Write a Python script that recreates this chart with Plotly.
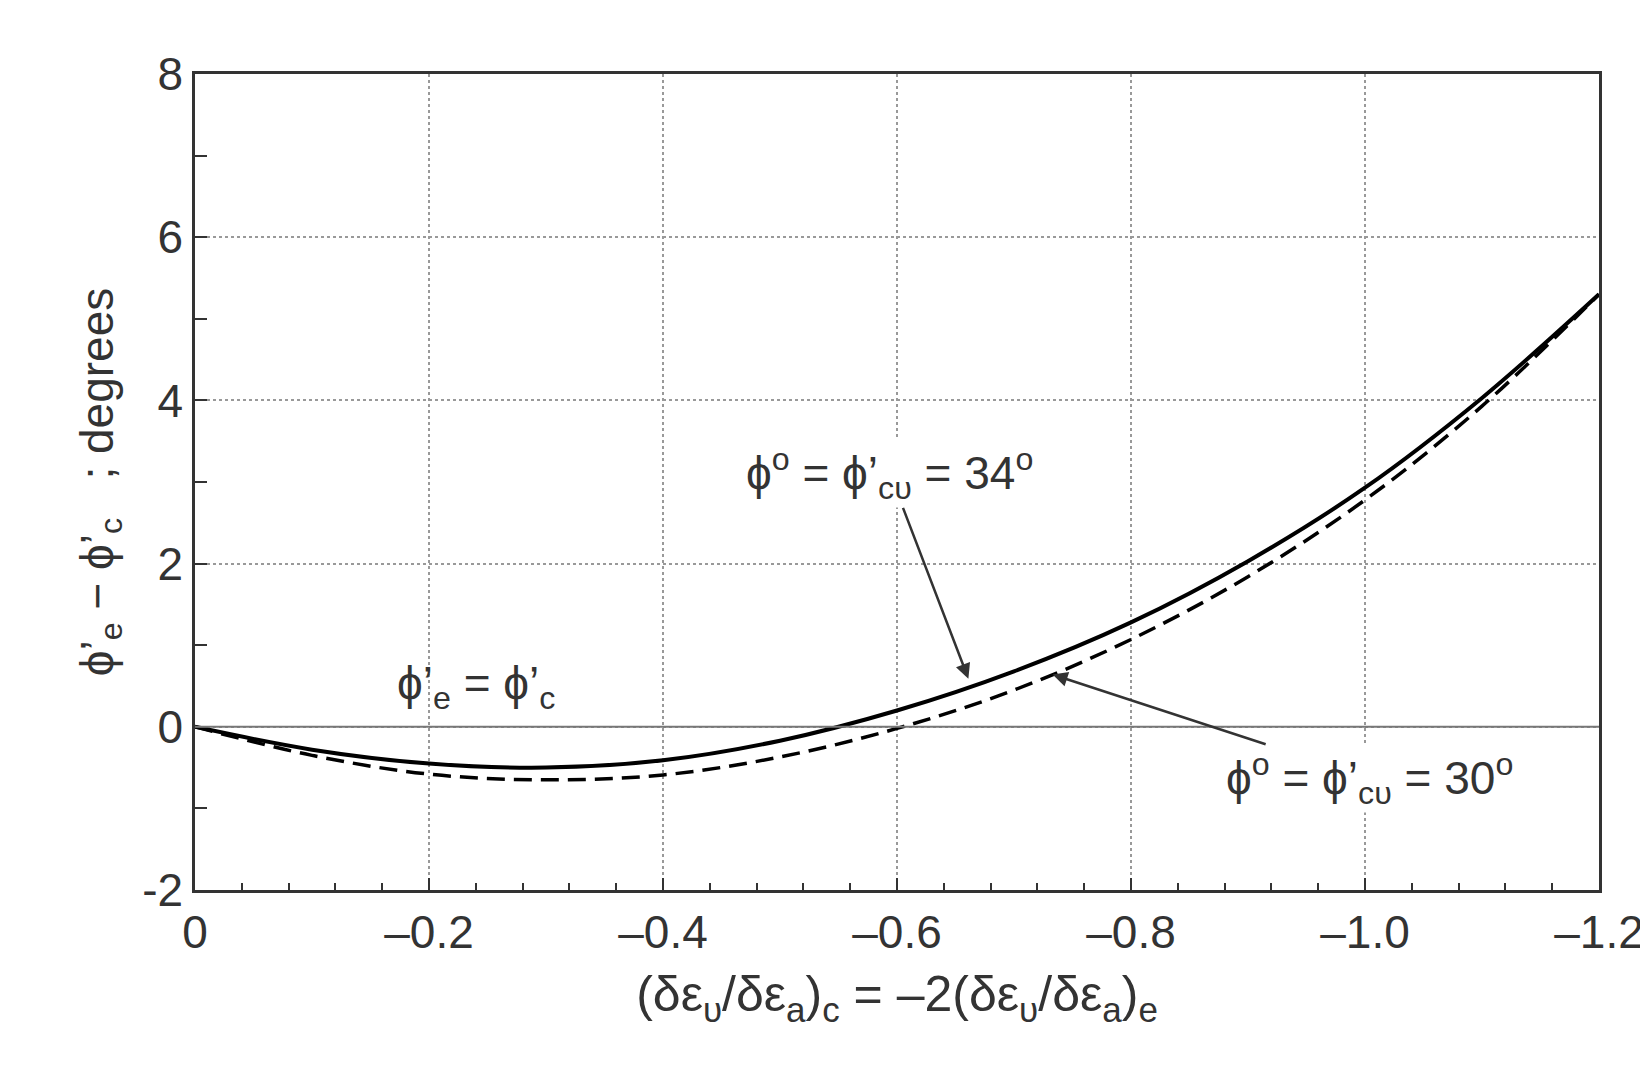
import plotly.graph_objects as go

# strain-rate ratio (x) and friction-angle difference (y)
x_vals = [0, -0.1, -0.2, -0.3, -0.4, -0.5, -0.6, -0.7, -0.8, -0.9, -1.0, -1.1, -1.2]
phi34 = [0, -0.28, -0.45, -0.5, -0.41, -0.17, 0.2, 0.68, 1.28, 2.03, 2.93, 4.03, 5.3]
phi30 = [0, -0.35, -0.58, -0.65, -0.59, -0.37, -0.02, 0.45, 1.07, 1.84, 2.78, 3.93, 5.3]
x_ticks = [0, -0.2, -0.4, -0.6, -0.8, -1.0, -1.2]
x_tick_text = ["0", "\u20130.2", "\u20130.4", "\u20130.6", "\u20130.8", "\u20131.0", "\u20131.2"]

font = dict(family="Liberation Sans, Arial", size=46, color="#333")

fig = go.Figure()
fig.add_trace(go.Scatter(x=x_vals, y=phi34, mode="lines", line=dict(color="black", width=4, shape="spline")))
fig.add_trace(go.Scatter(x=x_vals, y=phi30, mode="lines", line=dict(color="black", width=3.5, dash="18px,9px", shape="spline")))
fig.add_hline(y=0, line=dict(color="#777", width=2))

fig.add_annotation(x=-0.661, y=0.59, ax=-0.594, ay=3.1, axref="x", ayref="y",
                   text="\u03d5<sup>o</sup> = \u03d5\u2019<sub>c\u03c5</sub> = 34<sup>o</sup>",
                   showarrow=True, arrowhead=2, arrowsize=1.2, arrowwidth=2.5, arrowcolor="#333",
                   font=font, bgcolor="white")
fig.add_annotation(x=-0.733, y=0.64, ax=-1.004, ay=-0.63, axref="x", ayref="y",
                   text="\u03d5<sup>o</sup> = \u03d5\u2019<sub>c\u03c5</sub> = 30<sup>o</sup>",
                   showarrow=True, arrowhead=2, arrowsize=1.2, arrowwidth=2.5, arrowcolor="#333",
                   font=font, bgcolor="white")
fig.add_annotation(x=-0.24, y=0.5, text="\u03d5\u2019<sub>e</sub> = \u03d5\u2019<sub>c</sub>",
                   showarrow=False, font=font)

fig.update_xaxes(range=[0, -1.2], tickvals=x_ticks, ticktext=x_tick_text,
                 showgrid=True, gridcolor="#999", griddash="dot", gridwidth=1.5,
                 ticks="inside", ticklen=12, tickwidth=2, tickcolor="#333",
                 minor=dict(dtick=0.04, ticks="inside", ticklen=7, tickcolor="#333", showgrid=False),
                 showline=True, linecolor="#333", linewidth=2.5, mirror=True, zeroline=False,
                 tickfont=font,
                 title=dict(text="(\u03b4\u03b5<sub>\u03c5</sub>/\u03b4\u03b5<sub>a</sub>)<sub>c</sub> = \u20132(\u03b4\u03b5<sub>\u03c5</sub>/\u03b4\u03b5<sub>a</sub>)<sub>e</sub>",
                            font=dict(family="Liberation Sans, Arial", size=50, color="#333"), standoff=20))
fig.update_yaxes(range=[-2, 8], dtick=2, tickvals=[-2, 0, 2, 4, 6, 8], ticktext=["-2", "0", "2", "4", "6", "8"],
                 showgrid=True, gridcolor="#999", griddash="dot", gridwidth=1.5,
                 ticks="inside", ticklen=12, tickwidth=2, tickcolor="#333",
                 minor=dict(dtick=1, ticks="inside", ticklen=12, tickcolor="#333", showgrid=False),
                 showline=True, linecolor="#333", linewidth=2.5, mirror=True, zeroline=False,
                 tickfont=font,
                 title=dict(text="\u03d5\u2019<sub>e</sub> \u2212 \u03d5\u2019<sub>c</sub>   ; degrees",
                            font=dict(family="Liberation Sans, Arial", size=46, color="#333"), standoff=15))

fig.update_layout(width=1648, height=1077, showlegend=False,
                  plot_bgcolor="white", paper_bgcolor="white",
                  margin=dict(l=187, r=45, t=66, b=195))
fig.write_html("out.html")
